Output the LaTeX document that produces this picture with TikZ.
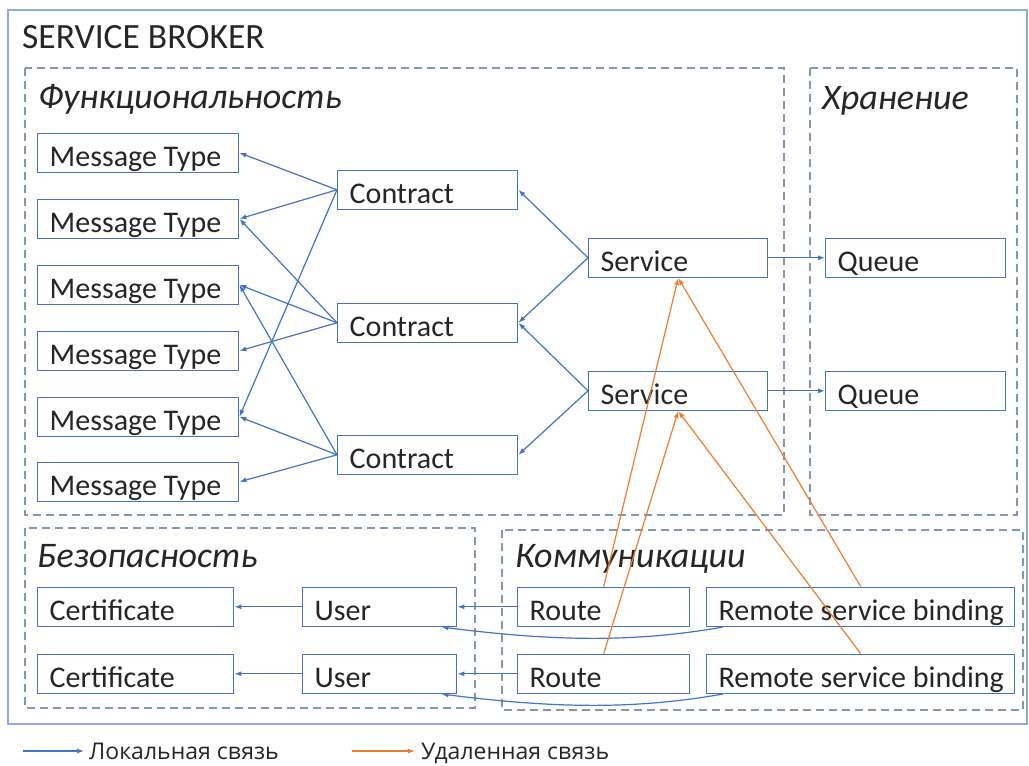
\documentclass[tikz,border=0pt]{standalone}
\usepackage{fontspec}
\setmainfont{Carlito}
\newfontfamily\legendfont{Open Sans}
\usetikzlibrary{arrows.meta}
\definecolor{bblue}{RGB}{68,114,196}
\definecolor{oorange}{RGB}{237,125,49}
\definecolor{dgray}{RGB}{132,151,176}
\definecolor{outerc}{RGB}{143,170,220}
\definecolor{tcol}{RGB}{38,38,38}
\tikzset{
  box/.style={draw=bblue, line width=1.4pt, text=tcol, font=\fontsize{30}{36}\selectfont,
    text height=33pt, text depth=6pt, inner ysep=0pt, inner xsep=12pt, anchor=south west},
  grp/.style={draw=dgray, line width=1.8pt, dash pattern=on 8pt off 5pt},
  ttl/.style={text=tcol, font=\fontsize{36}{42}\selectfont\itshape, anchor=base west, inner sep=0pt},
  loc/.style={draw=bblue, line width=1.2pt, -{Latex[length=7pt,width=5pt]}},
  rem/.style={draw=oorange, line width=1.2pt, -{Latex[length=7pt,width=5pt]}},
  lgd/.style={text=tcol, font=\legendfont\fontsize{23}{28}\selectfont, anchor=base west, inner sep=0pt},
}
\newcommand\mybox[5]{\node[box] (#1) at (#2,#3) {\makebox[\dimexpr#4pt-24pt\relax][l]{#5}};}
\begin{document}
\begin{tikzpicture}[x=1pt,y=-1pt]
\useasboundingbox (0,0) rectangle (1029,766);
% outer frame
\draw[draw=outerc, line width=2.2pt] (8,10) rectangle (1027,724);
\node[text=tcol, font=\fontsize{35.5}{42}\selectfont, anchor=base west, inner sep=0pt] (sb) at (22,48) {SERVICE BROKER};
% groups
\draw[grp] (25,68) rectangle (784,515);
\draw[grp] (810,68) rectangle (1017,515);
\draw[grp] (25,528) rectangle (475,708);
\draw[grp] (502,530) rectangle (1023,710);
\node[ttl] (t1) at (38,108) {Функциональность};
\node[ttl] (t2) at (822,109) {Хранение};
\node[ttl] (t3) at (37,567) {Безопасность};
\node[ttl] (t4) at (515,567) {Коммуникации};
% message types
\mybox{mt1}{37}{173}{201}{Message Type}
\mybox{mt2}{37}{239}{201}{Message Type}
\mybox{mt3}{37}{305}{201}{Message Type}
\mybox{mt4}{37}{371}{201}{Message Type}
\mybox{mt5}{37}{437}{201}{Message Type}
\mybox{mt6}{37}{502}{201}{Message Type}
% contracts
\mybox{c1}{337}{210}{180}{Contract}
\mybox{c2}{337}{343}{180}{Contract}
\mybox{c3}{337}{475}{180}{Contract}
% services and queues
\mybox{s1}{588}{278}{179}{Service}
\mybox{s2}{588}{411}{179}{Service}
\mybox{q1}{825}{278}{180}{Queue}
\mybox{q2}{825}{411}{180}{Queue}
% security
\mybox{ce1}{37}{627}{196}{Certificate}
\mybox{ce2}{37}{694}{196}{Certificate}
\mybox{u1}{302}{627}{154}{User}
\mybox{u2}{302}{694}{154}{User}
% communications
\mybox{r1}{517}{627}{172}{Route}
\mybox{r2}{517}{694}{172}{Route}
\mybox{b1}{706}{627}{308}{Remote service binding}
\mybox{b2}{706}{694}{308}{Remote service binding}
% local links
\draw[loc] (c1.west) -- (mt1.east);
\draw[loc] (c1.west) -- (mt2.east);
\draw[loc] (c1.west) -- (mt5.east);
\draw[loc] (c2.west) -- (mt2.east);
\draw[loc] (c2.west) -- (mt3.east);
\draw[loc] (c2.west) -- (mt4.east);
\draw[loc] (c3.west) -- (mt3.east);
\draw[loc] (c3.west) -- (mt5.east);
\draw[loc] (c3.west) -- (mt6.east);
\draw[loc] (s1.west) -- (c1.east);
\draw[loc] (s1.west) -- (c2.east);
\draw[loc] (s2.west) -- (c2.east);
\draw[loc] (s2.west) -- (c3.east);
\draw[loc] (s1.east) -- (q1.west);
\draw[loc] (s2.east) -- (q2.west);
\draw[loc] (u1.west) -- (ce1.east);
\draw[loc] (u2.west) -- (ce2.east);
\draw[loc] (r1.west) -- (u1.east);
\draw[loc] (r2.west) -- (u2.east);
\draw[loc] ([xshift=17pt]b1.south west) .. controls +(-90,16) and +(110,14) .. ([xshift=-16pt]u1.south east);
\draw[loc] ([xshift=17pt]b2.south west) .. controls +(-90,16) and +(110,14) .. ([xshift=-16pt]u2.south east);
% remote links
\draw[rem] (r1.north) -- (s1.south);
\draw[rem] (r2.north) -- (s2.south);
\draw[rem] (b1.north) -- (s1.south);
\draw[rem] (b2.north) -- (s2.south);
% legend
\coordinate (la) at (23,751);
\coordinate (lb) at (84,751);
\coordinate (oa) at (352,751);
\coordinate (ob) at (415,751);
\draw[loc] (la) -- (lb);
\draw[rem] (oa) -- (ob);
\node[lgd] (l1) at (89,759) {Локальная связь};
\node[lgd] (l2) at (421,759) {Удаленная связь};
\end{tikzpicture}
\end{document}
